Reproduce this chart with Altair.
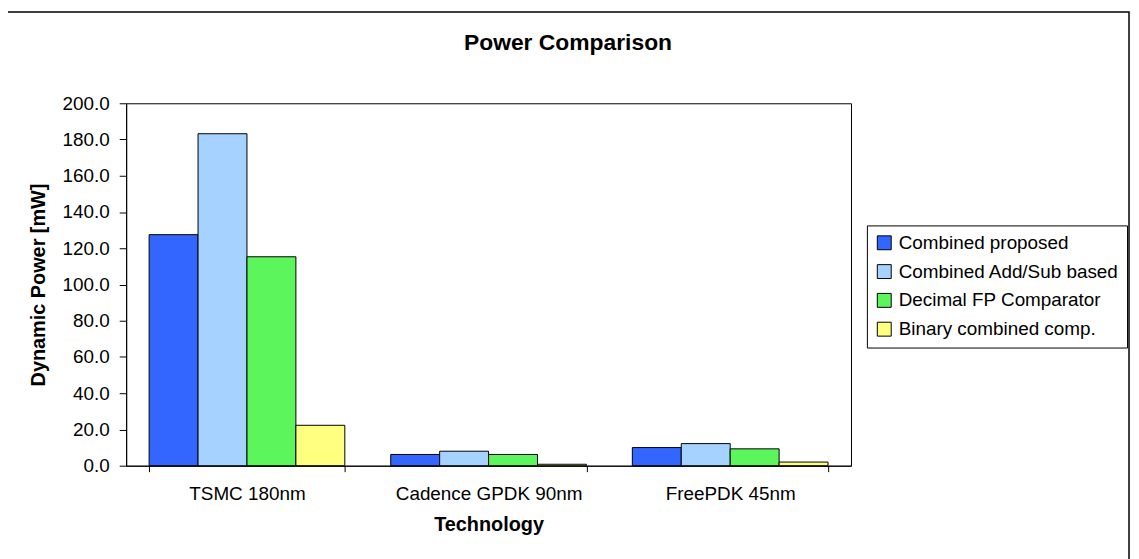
import altair as alt
import pandas as pd

technologies = ["TSMC 180nm", "Cadence GPDK 90nm", "FreePDK 45nm"]
series = ["Combined proposed", "Combined Add/Sub based", "Decimal FP Comparator", "Binary combined comp."]
combined_proposed = [127.5, 6.2, 10.0]
combined_addsub = [183.2, 8.0, 12.2]
decimal_fp = [115.3, 6.2, 9.3]
binary_comb = [22.3, 0.8, 2.0]
y_ticks = [0, 20, 40, 60, 80, 100, 120, 140, 160, 180, 200]
colors = ["#3366FF", "#A6D2FF", "#5CF55C", "#FFFF80"]
chart_title = "Power Comparison"

rows = []
for s, vals in zip(series, [combined_proposed, combined_addsub, decimal_fp, binary_comb]):
    for t, v in zip(technologies, vals):
        rows.append({"Technology": t, "Series": s, "Power": v})
df = pd.DataFrame(rows)

FONT = "Liberation Sans"

bars = alt.Chart(df).mark_bar(stroke="black", strokeWidth=1).encode(
    x=alt.X("Technology:N", sort=technologies,
            scale=alt.Scale(paddingInner=0.19, paddingOuter=0.095),
            axis=alt.Axis(title="Technology", labelAngle=0, tickBand="extent",
                          tickSize=6, labelPadding=13, labelFontSize=19, labelLimit=400,
                          titleFontSize=20, titleFontWeight="bold", titlePadding=11,
                          domainColor="black", tickColor="black",
                          labelColor="black", titleColor="black")),
    xOffset=alt.XOffset("Series:N", sort=series,
                        scale=alt.Scale(paddingInner=0, paddingOuter=0)),
    y=alt.Y("Power:Q", scale=alt.Scale(domain=[0, 200], nice=False),
            axis=alt.Axis(title="Dynamic Power [mW]", values=y_ticks, format=".1f",
                          grid=False, tickSize=7, labelPadding=10, labelFontSize=19,
                          titleFontSize=20, titleFontWeight="bold", titlePadding=14,
                          domainColor="black", tickColor="black",
                          labelColor="black", titleColor="black")),
    color=alt.Color("Series:N", sort=series,
                    scale=alt.Scale(domain=series, range=colors),
                    legend=alt.Legend(title=None, orient="none", legendX=746, legendY=123,
                                      strokeColor="black", fillColor="white", padding=8,
                                      symbolType="square", symbolSize=196,
                                      symbolStrokeColor="black", symbolStrokeWidth=1,
                                      symbolOpacity=1,
                                      labelFontSize=19, labelColor="black",
                                      labelOffset=5, rowPadding=9, labelLimit=400)),
)

frame = alt.Chart(alt.Data(values=[{}])).mark_rect(
    fill=None, fillOpacity=0, stroke="black", strokeWidth=1.5
).encode(
    x=alt.value(-120), x2=alt.value(1010), y=alt.value(-92), y2=alt.value(480)
)

title_mark = alt.Chart(alt.Data(values=[{"t": chart_title}])).mark_text(
    fontSize=23, fontWeight="bold", color="black", align="center", baseline="alphabetic"
).encode(
    text="t:N", x=alt.value(445), y=alt.value(-54)
)

chart = alt.layer(frame, bars, title_mark).properties(
    width=730, height=365,
    autosize=alt.AutoSizeParams(type="none"),
    padding={"left": 119, "top": 94, "right": 282, "bottom": 92},
).configure(font=FONT).configure_view(stroke="black", strokeWidth=1)

chart.save("out.html", embed_options={"renderer": "svg", "actions": False})
